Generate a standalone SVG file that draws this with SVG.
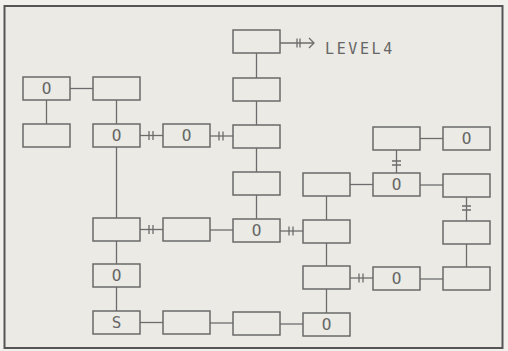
<svg xmlns="http://www.w3.org/2000/svg" width="508" height="351" viewBox="0 0 508 351">
<style>
.b{fill:none;stroke:#6a6a6a;stroke-width:1.5}
.c line,.c path{stroke:#6c6c6c;stroke-width:1.3;fill:none}
.t{font-family:"DejaVu Sans Mono","Liberation Mono",monospace;font-size:16px;fill:#666;text-anchor:middle;dominant-baseline:central}
.lv{font-family:"DejaVu Sans Mono","Liberation Mono",monospace;font-size:15px;fill:#666;letter-spacing:2.6px}
</style>
<rect x="0" y="0" width="508" height="351" fill="#f1f0ec"/>
<rect x="4.5" y="6" width="498" height="342" fill="#ebeae5" stroke="#555" stroke-width="2"/>
<g class="c" id="connectors">
<line x1="70" y1="88.5" x2="93" y2="88.5"/>
<line x1="46.5" y1="100" x2="46.5" y2="124"/>
<line x1="116.5" y1="100" x2="116.5" y2="124"/>
<line x1="140" y1="135.5" x2="163" y2="135.5"/><path d="M149,131v9M153,131v9"/>
<line x1="210" y1="136" x2="233" y2="136"/><path d="M219,131.5v9M223,131.5v9"/>
<line x1="256.5" y1="53" x2="256.5" y2="78"/>
<line x1="256.5" y1="101" x2="256.5" y2="125"/>
<line x1="256.5" y1="148" x2="256.5" y2="172"/>
<line x1="256.5" y1="195" x2="256.5" y2="219"/>
<line x1="280" y1="43" x2="314" y2="43"/><path d="M297,38.5v9M300,38.5v9M309,38L314,43L309,48"/>
<line x1="116.5" y1="147" x2="116.5" y2="218"/>
<line x1="140" y1="229.5" x2="163" y2="229.5"/><path d="M149,225v9M153,225v9"/>
<line x1="210" y1="230" x2="233" y2="230"/>
<line x1="280" y1="231" x2="303" y2="231"/><path d="M289,226.5v9M293,226.5v9"/>
<line x1="116.5" y1="241" x2="116.5" y2="264"/>
<line x1="116.5" y1="287" x2="116.5" y2="311"/>
<line x1="140" y1="322.5" x2="163" y2="322.5"/>
<line x1="210" y1="323" x2="233" y2="323"/>
<line x1="280" y1="324" x2="303" y2="324"/>
<line x1="326.5" y1="196" x2="326.5" y2="220"/>
<line x1="326.5" y1="243" x2="326.5" y2="266"/>
<line x1="326.5" y1="289" x2="326.5" y2="313"/>
<line x1="350" y1="184.5" x2="373" y2="184.5"/>
<line x1="420" y1="185" x2="443" y2="185"/>
<line x1="420" y1="138.5" x2="443" y2="138.5"/>
<line x1="396.5" y1="150" x2="396.5" y2="173"/><path d="M392,161h9M392,165h9"/>
<line x1="466.5" y1="197" x2="466.5" y2="221"/><path d="M462,206h9M462,210h9"/>
<line x1="466.5" y1="244" x2="466.5" y2="267"/>
<line x1="350" y1="278" x2="373" y2="278"/><path d="M359,273.5v9M363,273.5v9"/>
<line x1="420" y1="279" x2="443" y2="279"/>
</g>
<text class="lv" x="325" y="54">LEVEL4</text>
<g id="n1"><rect class="b" x="233" y="30" width="47" height="23"/></g>
<g id="n2"><rect class="b" x="23" y="77" width="47" height="23"/><text class="t" x="46.5" y="88.5">O</text></g>
<g id="n3"><rect class="b" x="93" y="77" width="47" height="23"/></g>
<g id="n4"><rect class="b" x="233" y="78" width="47" height="23"/></g>
<g id="n5"><rect class="b" x="23" y="124" width="47" height="23"/></g>
<g id="n6"><rect class="b" x="93" y="124" width="47" height="23"/><text class="t" x="116.5" y="135.5">O</text></g>
<g id="n7"><rect class="b" x="163" y="124" width="47" height="23"/><text class="t" x="186.5" y="135.5">O</text></g>
<g id="n8"><rect class="b" x="233" y="125" width="47" height="23"/></g>
<g id="n9"><rect class="b" x="373" y="127" width="47" height="23"/></g>
<g id="n10"><rect class="b" x="443" y="127" width="47" height="23"/><text class="t" x="466.5" y="138.5">O</text></g>
<g id="n11"><rect class="b" x="233" y="172" width="47" height="23"/></g>
<g id="n12"><rect class="b" x="303" y="173" width="47" height="23"/></g>
<g id="n13"><rect class="b" x="373" y="173" width="47" height="23"/><text class="t" x="396.5" y="184.5">O</text></g>
<g id="n14"><rect class="b" x="443" y="174" width="47" height="23"/></g>
<g id="n15"><rect class="b" x="93" y="218" width="47" height="23"/></g>
<g id="n16"><rect class="b" x="163" y="218" width="47" height="23"/></g>
<g id="n17"><rect class="b" x="233" y="219" width="47" height="23"/><text class="t" x="256.5" y="230.5">O</text></g>
<g id="n18"><rect class="b" x="303" y="220" width="47" height="23"/></g>
<g id="n19"><rect class="b" x="443" y="221" width="47" height="23"/></g>
<g id="n20"><rect class="b" x="93" y="264" width="47" height="23"/><text class="t" x="116.5" y="275.5">O</text></g>
<g id="n21"><rect class="b" x="303" y="266" width="47" height="23"/></g>
<g id="n22"><rect class="b" x="373" y="267" width="47" height="23"/><text class="t" x="396.5" y="278.5">O</text></g>
<g id="n23"><rect class="b" x="443" y="267" width="47" height="23"/></g>
<g id="n24"><rect class="b" x="93" y="311" width="47" height="23"/><text class="t" x="116.5" y="322.5">S</text></g>
<g id="n25"><rect class="b" x="163" y="311" width="47" height="23"/></g>
<g id="n26"><rect class="b" x="233" y="312" width="47" height="23"/></g>
<g id="n27"><rect class="b" x="303" y="313" width="47" height="23"/><text class="t" x="326.5" y="324.5">O</text></g>
</svg>
